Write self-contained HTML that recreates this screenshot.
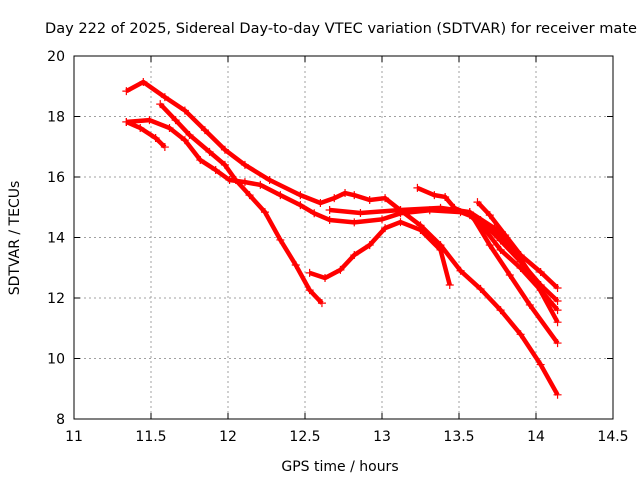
<!DOCTYPE html>
<html><head><meta charset="utf-8"><style>
body{margin:0;background:#fff}
svg{display:block;font-family:"DejaVu Sans","Liberation Sans",sans-serif}
</style></head><body>
<svg id="chart" width="640" height="480" viewBox="0 0 640 480">
<rect width="640" height="480" fill="#fff"/>
<text x="45" y="33" font-size="14" textLength="592" lengthAdjust="spacingAndGlyphs">Day 222 of 2025, Sidereal Day-to-day VTEC variation (SDTVAR) for receiver mate</text>
<g id="grid"></g>
<g id="axes"></g>
<g id="series"></g>
<text x="340" y="471" font-size="14" text-anchor="middle">GPS time / hours</text>
<text transform="translate(19,238) rotate(-90)" font-size="14" text-anchor="middle">SDTVAR / TECUs</text>
</svg>
<script>
const xTicks=[11,11.5,12,12.5,13,13.5,14,14.5];
const yTicks=[8,10,12,14,16,18,20];
const sA_t=[11.34,11.45,11.59,11.72,11.85,11.98,12.11,12.27,12.47,12.6,12.69,12.76,12.82,12.92,13.02,13.12,13.25,13.38,13.51,13.64,13.77,13.9,14.03,14.14];
const sA_v=[18.84,19.14,18.64,18.2,17.55,16.9,16.4,15.9,15.4,15.14,15.3,15.47,15.4,15.24,15.3,14.9,14.4,13.75,12.9,12.3,11.6,10.8,9.8,8.8];
const sB_t=[11.34,11.49,11.62,11.72,11.82,11.92,12.01,12.11,12.21,12.34,12.47,12.56,12.66,12.82,13.0,13.12,13.31,13.51,13.64,13.77,13.9,14.03,14.14];
const sB_v=[17.82,17.88,17.62,17.22,16.56,16.23,15.9,15.83,15.74,15.4,15.07,14.8,14.58,14.5,14.6,14.8,14.9,14.84,14.58,13.9,13.2,12.43,11.9];
const sC_t=[11.34,11.43,11.53,11.59];
const sC_v=[17.82,17.62,17.29,16.99];
const sD_t=[11.56,11.66,11.75,11.88,11.98,12.05,12.14,12.24,12.34,12.44,12.53,12.61];
const sD_v=[18.41,17.88,17.39,16.83,16.4,15.9,15.4,14.84,13.92,13.09,12.26,11.83];
const sE_t=[12.53,12.63,12.73,12.82,12.92,13.02,13.12,13.25,13.38,13.44];
const sE_v=[12.83,12.66,12.93,13.42,13.75,14.31,14.51,14.25,13.59,12.43];
const sF_t=[13.23,13.34,13.41,13.47,13.57,13.67,13.77,13.9,14.03,14.14];
const sF_v=[15.64,15.4,15.34,14.98,14.74,14.25,13.59,12.99,12.26,11.6];
const sG_t=[13.62,13.7,13.8,13.9,14.03,14.14];
const sG_v=[15.17,14.74,14.08,13.42,12.86,12.33];
const sH_t=[12.66,12.86,13.12,13.38,13.57,13.73,13.86,13.99,14.14];
const sH_v=[14.91,14.81,14.91,14.98,14.84,14.31,13.59,12.6,11.2];
const sI_t=[13.57,13.7,13.83,13.96,14.14];
const sI_v=[14.84,13.75,12.76,11.77,10.51];
const seriesT=[sA_t,sB_t,sC_t,sD_t,sE_t,sF_t,sG_t,sH_t,sI_t];
const seriesV=[sA_v,sB_v,sC_v,sD_v,sE_v,sF_v,sG_v,sH_v,sI_v];

const NS="http://www.w3.org/2000/svg";
const L=74,R=613,T=56,B=419;
const xs=t=>L+(t-11)/(14.5-11)*(R-L);
const ys=v=>B-(v-8)/(20-8)*(B-T);
function mk(tag,attrs,parent){const e=document.createElementNS(NS,tag);for(const k in attrs)e.setAttribute(k,attrs[k]);parent.appendChild(e);return e;}
const grid=document.getElementById('grid'),axes=document.getElementById('axes'),ser=document.getElementById('series');
xTicks.forEach(t=>{
  const x=xs(t);
  if(t>11&&t<14.5){const g=mk('line',{x1:x,x2:x,y1:T,y2:B,stroke:'#a0a0a0','stroke-dasharray':'2,3'},grid);
  
  }
  mk('line',{x1:x,x2:x,y1:B,y2:B-6,stroke:'#000'},axes);
  mk('line',{x1:x,x2:x,y1:T,y2:T+6,stroke:'#000'},axes);
  const lb=mk('text',{x:x,y:B+22,'font-size':14,'text-anchor':'middle'},axes);
  lb.textContent=String(t);
  
  
});
yTicks.forEach(v=>{
  const y=ys(v);
  if(v>8&&v<20){const g=mk('line',{x1:L,x2:R,y1:y,y2:y,stroke:'#a0a0a0','stroke-dasharray':'2,3'},grid);
  
  }
  mk('line',{x1:L,x2:L+6,y1:y,y2:y,stroke:'#000'},axes);
  mk('line',{x1:R,x2:R-6,y1:y,y2:y,stroke:'#000'},axes);
  const lb=mk('text',{x:L-9,y:y+5,'font-size':14,'text-anchor':'end'},axes);
  lb.textContent=String(v);
  
  
});
const frame=mk('rect',{x:L,y:T,width:R-L,height:B-T,fill:'none',stroke:'#000'},axes);


seriesT.forEach((ts,i)=>{
  const vs=seriesV[i];
  const g=mk('g',{},ser);
  
  
  const pts=ts.map((t,j)=>xs(t)+','+ys(vs[j])).join(' ');
  mk('polyline',{points:pts,fill:'none',stroke:'#f00','stroke-width':4.5,'stroke-linejoin':'round'},g);
  ts.forEach((t,j)=>{
    const x=xs(t),y=ys(vs[j]);
    const p=mk('path',{d:`M${x-4},${y}h8M${x},${y-4}v8`,stroke:'#f00','stroke-width':1.2},g);
    
    
  });
});
</script>
</body></html>
